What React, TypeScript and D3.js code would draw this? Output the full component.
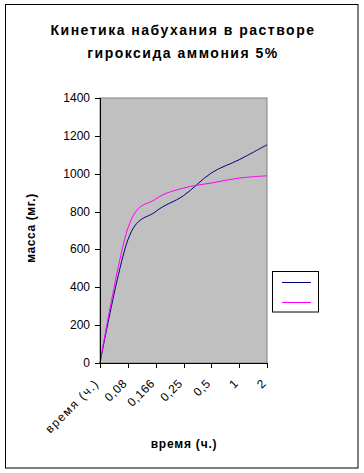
import React from "react";
import * as d3 from "d3";

const categories = ["время (ч.)", "0,08", "0,166", "0,25", "0,5", "1", "2"];
const series1 = [0, 650, 800, 884, 1004, 1074, 1153];
const series2 = [0, 712, 866, 924, 951, 977, 989];
const yTicks = [0, 200, 400, 600, 800, 1000, 1200, 1400];
const titleLines = ["Кинетика набухания в растворе", "гироксида аммония 5%"];

const W = 364, H = 473;
const plot = { left: 100, right: 267, top: 98, bottom: 363 };
const font = "'Liberation Sans', Arial, sans-serif";

export default function App() {
  const x = d3.scalePoint<string>().domain(categories).range([plot.left, plot.right]);
  const y = d3.scaleLinear().domain([0, 1400]).range([plot.bottom, plot.top]);
  const line = d3
    .line<number>()
    .x((_, i) => x(categories[i]) as number)
    .y((d) => y(d))
    .curve(d3.curveCardinal.tension(0));

  return (
    <svg
      width={W}
      height={H}
      style={{ position: "absolute", left: 0, top: 0 }}
      fontFamily={font}
    >
      <rect x={0} y={0} width={W} height={H} fill="#fff" />
      <rect x={5.5} y={4.5} width={352.5} height={463.5} fill="#fff" stroke="#000" strokeWidth={1} />
      {titleLines.map((t, i) => (
        <text
          key={i}
          x={183}
          y={35 + i * 23}
          textAnchor="middle"
          fontSize={14}
          fontWeight="bold"
          letterSpacing={1.5}
        >
          {t}
        </text>
      ))}
      <rect
        x={plot.left}
        y={plot.top}
        width={plot.right - plot.left}
        height={plot.bottom - plot.top}
        fill="#c0c0c0"
        stroke="#808080"
        strokeWidth={1}
      />
      <path d={line(series1) || ""} fill="none" stroke="#000080" strokeWidth={1} />
      <path d={line(series2) || ""} fill="none" stroke="#ff00ff" strokeWidth={1} />
      {/* y axis */}
      <line x1={plot.left + 0.5} x2={plot.left + 0.5} y1={plot.top} y2={plot.bottom} stroke="#000" />
      {yTicks.map((t) => (
        <g key={t}>
          <line x1={95} x2={plot.left} y1={Math.round(y(t)) + 0.5} y2={Math.round(y(t)) + 0.5} stroke="#000" />
          <text x={90} y={y(t) + 4} textAnchor="end" fontSize={12}>
            {t}
          </text>
        </g>
      ))}
      {/* x axis */}
      <line x1={plot.left} x2={plot.right} y1={plot.bottom + 0.5} y2={plot.bottom + 0.5} stroke="#000" />
      {categories.map((c, i) => {
        const cx = x(c) as number;
        return (
          <g key={c}>
            <line x1={Math.round(cx) + 0.5} x2={Math.round(cx) + 0.5} y1={plot.bottom} y2={plot.bottom + 5} stroke="#000" />
            <text
              transform={`translate(${cx},${plot.bottom + 21}) rotate(-45)`}
              textAnchor="end"
              fontSize={12}
              letterSpacing={i === 0 ? 1.5 : 0.6}
            >
              {c}
            </text>
          </g>
        );
      })}
      <text x={184} y={448} textAnchor="middle" fontSize={12} fontWeight="bold" letterSpacing={0.8}>
        время (ч.)
      </text>
      <text
        transform={`translate(35,228) rotate(-90)`}
        textAnchor="middle"
        fontSize={12}
        fontWeight="bold"
        letterSpacing={0.6}
      >
        масса (мг.)
      </text>
      {/* legend */}
      <rect x={272.5} y={271.5} width={46} height={40.5} fill="#fff" stroke="#000" strokeWidth={1} />
      <line x1={282} x2={311} y1={282.5} y2={282.5} stroke="#000080" />
      <line x1={282} x2={311} y1={302.5} y2={302.5} stroke="#ff00ff" />
    </svg>
  );
}
